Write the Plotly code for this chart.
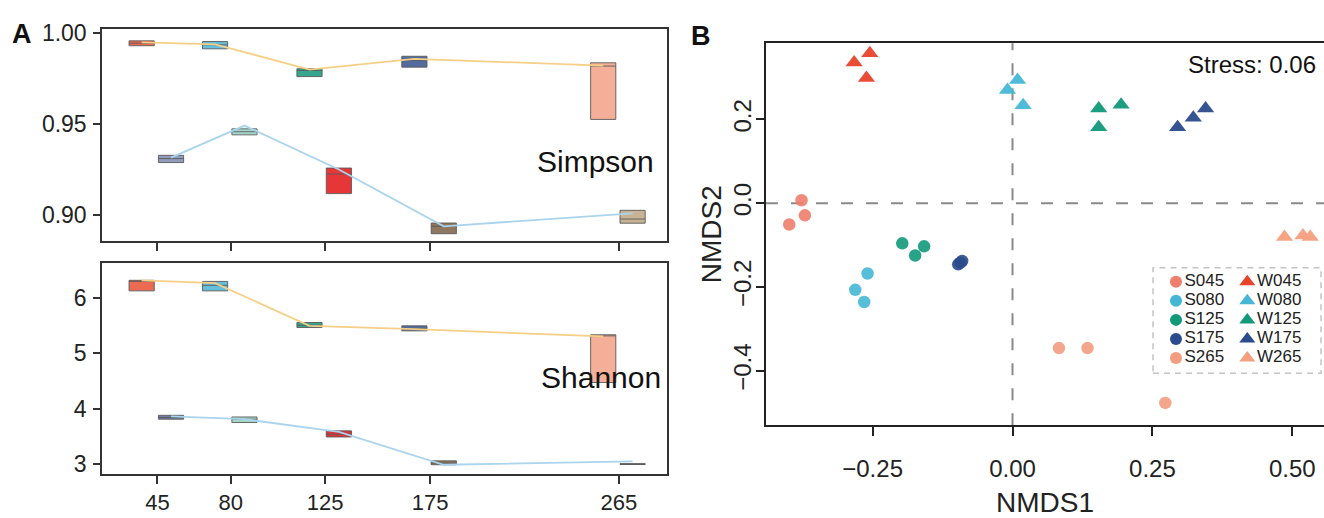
import plotly.graph_objects as go

# ---------------- Panel A data ----------------
depths = [45, 80, 125, 175, 265]

simpson_W_q1 = [0.9932, 0.9915, 0.9762, 0.9814, 0.9526]
simpson_W_med = [0.9946, 0.9937, 0.9796, 0.9852, 0.9820]
simpson_W_q3 = [0.9959, 0.9955, 0.9805, 0.9874, 0.9838]
simpson_W_line = [0.9950, 0.9940, 0.9800, 0.9860, 0.9822]

simpson_S_q1 = [0.9288, 0.9441, 0.9117, 0.8896, 0.8954]
simpson_S_med = [0.9310, 0.9458, 0.9225, 0.8937, 0.8977]
simpson_S_q3 = [0.9328, 0.9474, 0.9258, 0.8955, 0.9025]
simpson_S_line = [0.9315, 0.9492, 0.9250, 0.8937, 0.9008]

shannon_W_q1 = [6.12, 6.12, 5.46, 5.40, 4.47]
shannon_W_med = [6.29, 6.22, 5.50, 5.44, 5.31]
shannon_W_q3 = [6.31, 6.29, 5.55, 5.49, 5.33]
shannon_W_line = [6.31, 6.26, 5.49, 5.43, 5.30]

shannon_S_q1 = [3.81, 3.75, 3.49, 2.99, 2.995]
shannon_S_med = [3.84, 3.81, 3.54, 3.02, 3.00]
shannon_S_q3 = [3.88, 3.85, 3.60, 3.06, 3.01]
shannon_S_line = [3.86, 3.81, 3.58, 2.99, 3.05]

simpson_ticks = [0.90, 0.95, 1.00]
simpson_ticktext = ["0.90", "0.95", "1.00"]
shannon_ticks = [3, 4, 5, 6]

# box colours (per depth)
simpson_W_colors = ["#E8553A", "#4FB6D8", "#1A9A80", "#3B5790", "#F4A48A"]
simpson_S_colors = ["#8090B0", "#9AD4C4", "#E31A1C", "#7E6448", "#C0A888"]
shannon_W_colors = ["#E8553A", "#4FB6D8", "#1A9A80", "#3B5790", "#F4A48A"]
shannon_S_colors = ["#5A6C98", "#98D2BE", "#D7191C", "#7E6448", "#555555"]

# ---------------- Panel B data ----------------
groups = ["045", "080", "125", "175", "265"]
S_x = [[-0.377, -0.371, -0.399], [-0.259, -0.281, -0.265], [-0.197, -0.158, -0.174],
       [-0.097, -0.093, -0.090], [0.083, 0.134, 0.273]]
S_y = [[0.007, -0.029, -0.051], [-0.168, -0.207, -0.236], [-0.096, -0.103, -0.125],
       [-0.146, -0.142, -0.138], [-0.346, -0.346, -0.477]]
W_x = [[-0.283, -0.255, -0.261], [-0.009, 0.009, 0.019], [0.154, 0.194, 0.154],
       [0.295, 0.323, 0.345], [0.486, 0.519, 0.532]]
W_y = [[0.336, 0.358, 0.299], [0.270, 0.294, 0.234], [0.226, 0.235, 0.181],
       [0.181, 0.204, 0.226], [-0.081, -0.077, -0.081]]
S_colors = ["#EE7E6E", "#45B7D6", "#11997A", "#2B4B8C", "#F39C80"]
W_colors = ["#E8432B", "#45B7D6", "#11997A", "#2B4B8C", "#F4A080"]
stress_text = "Stress: 0.06"

# ---------------- layout helpers ----------------
W, H = 1324, 518
FONT = "Arial, Liberation Sans, sans-serif"


def xdom(a, b):
    return [a / W, b / W]


def ydom(top, bottom):
    return [1 - bottom / H, 1 - top / H]


def hexa(c, a):
    c = c.lstrip("#")
    return "rgba(%d,%d,%d,%.2f)" % (int(c[0:2], 16), int(c[2:4], 16), int(c[4:6], 16), a)


fig = go.Figure()

W_OFF, S_OFF, BOXW = -7.5, 6.5, 12


def add_panel(xa, ya, wq1, wmed, wq3, wline, sq1, smed, sq3, sline, wcol, scol):
    fig.add_trace(go.Scatter(x=[d + W_OFF for d in depths], y=wline, mode="lines",
                             line=dict(color="#F6CF87", width=1.8), xaxis=xa, yaxis=ya,
                             showlegend=False, hoverinfo="skip"))
    fig.add_trace(go.Scatter(x=[d + S_OFF for d in depths], y=sline, mode="lines",
                             line=dict(color="#AAD4EE", width=1.8), xaxis=xa, yaxis=ya,
                             showlegend=False, hoverinfo="skip"))
    for i, d in enumerate(depths):
        for off, q1, md, q3, col in ((W_OFF, wq1, wmed, wq3, wcol), (S_OFF, sq1, smed, sq3, scol)):
            fig.add_trace(go.Box(x=[d + off], q1=[q1[i]], median=[md[i]], q3=[q3[i]],
                                 lowerfence=[q1[i]], upperfence=[q3[i]], width=BOXW,
                                 fillcolor=hexa(col[i], 0.88),
                                 line=dict(color="rgba(90,90,90,0.9)", width=1),
                                 whiskerwidth=0, boxpoints=False, xaxis=xa, yaxis=ya,
                                 showlegend=False))


add_panel("x", "y", simpson_W_q1, simpson_W_med, simpson_W_q3, simpson_W_line,
          simpson_S_q1, simpson_S_med, simpson_S_q3, simpson_S_line,
          simpson_W_colors, simpson_S_colors)
add_panel("x2", "y2", shannon_W_q1, shannon_W_med, shannon_W_q3, shannon_W_line,
          shannon_S_q1, shannon_S_med, shannon_S_q3, shannon_S_line,
          shannon_W_colors, shannon_S_colors)

# Panel B points
for i, g in enumerate(groups):
    fig.add_trace(go.Scatter(x=S_x[i], y=S_y[i], mode="markers", name="S" + g,
                             marker=dict(symbol="circle", size=12.5, color=S_colors[i], opacity=0.9),
                             xaxis="x3", yaxis="y3", showlegend=False))
for i, g in enumerate(groups):
    fig.add_trace(go.Scatter(x=W_x[i], y=W_y[i], mode="markers", name="W" + g,
                             marker=dict(symbol="triangle-up", size=15, color=W_colors[i], opacity=0.95),
                             xaxis="x3", yaxis="y3", showlegend=False))

# manual two-column legend (aux axes)
nrow = len(groups)
rows = [1 - (i + 0.5) / nrow for i in range(nrow)]
fig.add_trace(go.Scatter(x=[0.136] * nrow, y=rows, mode="markers+text",
                         text=["S" + g for g in groups], textposition="middle right",
                         textfont=dict(size=17, color="#222", family=FONT),
                         marker=dict(symbol="circle", size=12, color=S_colors),
                         xaxis="x4", yaxis="y4", showlegend=False, hoverinfo="skip"))
fig.add_trace(go.Scatter(x=[0.558] * nrow, y=rows, mode="markers+text",
                         text=["W" + g for g in groups], textposition="middle right",
                         textfont=dict(size=17, color="#222", family=FONT),
                         marker=dict(symbol="triangle-up", size=14, color=W_colors),
                         xaxis="x4", yaxis="y4", showlegend=False, hoverinfo="skip"))

axA = dict(showline=True, mirror=True, linecolor="#333", linewidth=1.5, ticks="outside",
           tickcolor="#333", tickwidth=1.5, showgrid=False, zeroline=False,
           tickfont=dict(size=23, color="#222", family=FONT))

xr_A = [18.6, 287.9]
fig.update_layout(
    width=W, height=H, margin=dict(l=0, r=0, t=0, b=0),
    paper_bgcolor="white", plot_bgcolor="white", font=dict(family=FONT),
    showlegend=False,
    xaxis=dict(axA, domain=xdom(102, 667), range=xr_A, tickvals=depths, showticklabels=False,
               ticklen=8, anchor="y"),
    yaxis=dict(axA, domain=ydom(20.7, 237.3), range=[0.8857, 1.0023], tickvals=simpson_ticks,
               ticktext=simpson_ticktext, ticklen=7, anchor="x", ticklabelstandoff=2),
    xaxis2=dict(axA, domain=xdom(102, 667), range=xr_A, tickvals=depths,
                ticklen=8, anchor="y2", ticklabelstandoff=0,
                tickfont=dict(size=22, color="#222", family=FONT)),
    yaxis2=dict(axA, domain=ydom(260, 476), range=[2.824, 6.622], tickvals=shannon_ticks,
                ticklen=7, anchor="x2", ticklabelstandoff=2),
    xaxis3=dict(domain=xdom(766, 1324), range=[-0.4405, 0.5566], tickvals=[-0.25, 0, 0.25, 0.5],
                ticktext=["−0.25", "0.00", "0.25", "0.50"], showline=True, mirror=True,
                linecolor="#222", linewidth=2, ticks="outside", ticklen=9, tickwidth=2,
                tickcolor="#222", showgrid=False, zeroline=False, anchor="y3",
                tickfont=dict(size=24, color="#222", family=FONT), ticklabelstandoff=12,
                title=dict(text="NMDS1", font=dict(size=28, color="#222", family=FONT), standoff=13)),
    yaxis3=dict(domain=ydom(35, 426), range=[-0.530, 0.382], tickvals=[-0.4, -0.2, 0.0, 0.2],
                ticktext=["−0.4", "−0.2", "0.0", "0.2"], showline=True, mirror=False,
                linecolor="#222", linewidth=2, ticks="outside", ticklen=8, tickwidth=2,
                tickcolor="#222", showgrid=False, zeroline=False, anchor="x3", tickangle=-90,
                tickfont=dict(size=24, color="#222", family=FONT), ticklabelstandoff=-5,
                title=dict(text="NMDS2", font=dict(size=28, color="#222", family=FONT), standoff=0)),
    xaxis4=dict(domain=xdom(1153, 1322), range=[0, 1], visible=False, anchor="y4"),
    yaxis4=dict(domain=ydom(269.5, 367), range=[0, 1], visible=False, anchor="x4"),
)

# dashed reference lines in panel B
fig.add_shape(type="line", xref="x3", yref="y3 domain", x0=0, x1=0, y0=0, y1=1,
              line=dict(color="#8a8a8a", width=2, dash="12px,13px"), layer="below")
fig.add_shape(type="line", xref="x3 domain", yref="y3", x0=0, x1=1, y0=0, y1=0,
              line=dict(color="#8a8a8a", width=2, dash="12px,13px"), layer="below")
# legend frame
fig.add_shape(type="rect", xref="paper", yref="paper", x0=1153 / W, x1=1321 / W,
              y0=1 - 373 / H, y1=1 - 265 / H, line=dict(color="#c4c4c4", width=1.5, dash="6px,5px"),
              fillcolor="rgba(255,255,255,0)")

ann = [
    dict(text="<b>A</b>", x=22 / W, y=1 - 26 / H, font=dict(size=27)),
    dict(text="<b>B</b>", x=701 / W, y=1 - 28 / H, font=dict(size=27)),
    dict(text="Simpson", x=656 / W, y=1 - 156 / H, xanchor="right", font=dict(size=30)),
    dict(text="Shannon", x=663 / W, y=1 - 377 / H, xanchor="right", font=dict(size=30)),
    dict(text=stress_text, x=1318 / W, y=1 - 57 / H, xanchor="right", font=dict(size=24)),
]
for a in ann:
    f = dict(color="#111", family=FONT)
    f.update(a.pop("font"))
    fig.add_annotation(xref="paper", yref="paper", showarrow=False, font=f,
                       xanchor=a.pop("xanchor", "center"), yanchor="middle", **a)

fig.write_html("out.html", config={"displayModeBar": False},
               post_script="document.body.style.margin='0';document.body.style.overflow='hidden';")
